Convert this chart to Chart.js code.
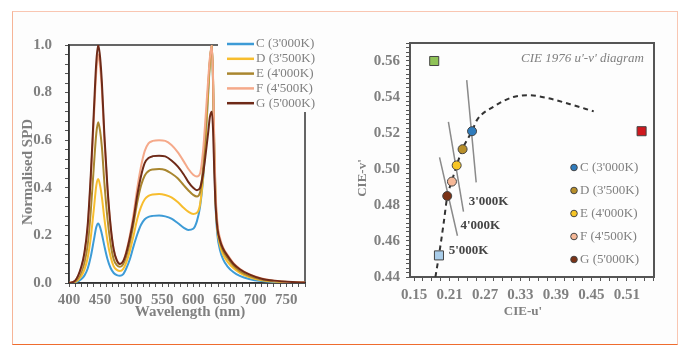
<!DOCTYPE html>
<html>
<head>
<meta charset="utf-8">
<script src="https://cdn.jsdelivr.net/npm/chart.js@4.4.1/dist/chart.umd.min.js"></script>
<style>
  body { margin: 0; background: #fff; }
  .frame {
    position: absolute; left: 12px; top: 11px; width: 666px; height: 334px;
    box-sizing: border-box; background: #fdfdfd;
    border: 1.5px solid #f9c6b2; border-bottom-color: #ef6c2e; border-left-color: #f6b497;
  }
  canvas { position: absolute; top: 0; }
  #spd { left: 0; }
  #cie { left: 350px; }
</style>
</head>
<body>
<div class="frame"></div>
<canvas id="spd" width="350" height="362"></canvas>
<canvas id="cie" width="348" height="362"></canvas>
<script>
// spectra (normalised SPD)
const wavelengths = [400, 410, 420, 425, 430, 435, 440, 444, 447, 450, 453, 457, 462, 467, 472, 477, 482, 487, 492, 498,
  504, 510, 516, 522, 528, 535, 545, 555, 565, 575, 585, 592, 600, 606, 611, 616, 620, 624, 627, 630,
  632, 634, 636, 639, 643, 648, 655, 665, 675, 690, 710, 730, 760, 780];

const spdC = [0, 0.002, 0.017, 0.032, 0.06, 0.11, 0.18, 0.235, 0.25, 0.235, 0.205, 0.155, 0.1, 0.063, 0.042, 0.033, 0.03, 0.036, 0.06, 0.1,
  0.155, 0.205, 0.245, 0.268, 0.278, 0.282, 0.284, 0.28, 0.27, 0.252, 0.232, 0.223, 0.228, 0.26, 0.32, 0.44, 0.6, 0.79, 0.93, 1.0,
  0.83, 0.52, 0.32, 0.2, 0.14, 0.1, 0.07, 0.045, 0.03, 0.017, 0.008, 0.004, 0.001, 0];
const spdD = [0, 0.004, 0.03, 0.057, 0.105, 0.19, 0.31, 0.41, 0.437, 0.41, 0.36, 0.27, 0.175, 0.11, 0.07, 0.055, 0.05, 0.058, 0.085, 0.135,
  0.2, 0.27, 0.32, 0.352, 0.366, 0.372, 0.374, 0.37, 0.36, 0.34, 0.315, 0.3, 0.29, 0.295, 0.33, 0.45, 0.61, 0.8, 0.93, 1.0,
  0.84, 0.54, 0.34, 0.22, 0.16, 0.12, 0.09, 0.062, 0.043, 0.025, 0.012, 0.006, 0.002, 0.001];
const spdE = [0, 0.007, 0.047, 0.088, 0.16, 0.3, 0.49, 0.63, 0.675, 0.64, 0.57, 0.42, 0.27, 0.165, 0.1, 0.075, 0.068, 0.078, 0.11, 0.17,
  0.25, 0.34, 0.41, 0.452, 0.47, 0.477, 0.479, 0.475, 0.46, 0.44, 0.41, 0.39, 0.37, 0.363, 0.38, 0.49, 0.64, 0.82, 0.94, 1.0,
  0.85, 0.56, 0.36, 0.24, 0.175, 0.135, 0.105, 0.072, 0.05, 0.03, 0.015, 0.008, 0.003, 0.001];
const spdF = [0, 0.01, 0.065, 0.125, 0.23, 0.43, 0.69, 0.89, 0.96, 0.91, 0.81, 0.6, 0.39, 0.235, 0.14, 0.095, 0.08, 0.09, 0.13, 0.2,
  0.29, 0.4, 0.49, 0.555, 0.587, 0.597, 0.6, 0.597, 0.58, 0.55, 0.51, 0.48, 0.455, 0.447, 0.46, 0.56, 0.7, 0.85, 0.95, 1.0,
  0.86, 0.58, 0.38, 0.25, 0.19, 0.15, 0.12, 0.083, 0.06, 0.037, 0.019, 0.01, 0.004, 0.002];
const spdG = [0, 0.01, 0.07, 0.13, 0.24, 0.45, 0.72, 0.93, 1.0, 0.95, 0.84, 0.62, 0.4, 0.24, 0.14, 0.095, 0.08, 0.09, 0.125, 0.19,
  0.27, 0.37, 0.45, 0.505, 0.525, 0.533, 0.535, 0.532, 0.515, 0.49, 0.455, 0.425, 0.4, 0.39, 0.4, 0.46, 0.54, 0.63, 0.7, 0.72,
  0.64, 0.46, 0.33, 0.23, 0.18, 0.145, 0.115, 0.08, 0.058, 0.036, 0.018, 0.01, 0.004, 0.002];

const seriesNames = ["C (3'000K)", "D (3'500K)", "E (4'000K)", "F (4'500K)", "G (5'000K)"];
const spdSeries = [spdC, spdD, spdE, spdF, spdG];
const spdColors = ['#3d9bd6', '#f7bd2e', '#a9862f', '#f5a98a', '#6e2a18'];

// CIE 1976 u'-v' panel
const locusU = [0.186, 0.192, 0.2, 0.206, 0.214, 0.222, 0.233, 0.248, 0.256, 0.284, 0.318, 0.343, 0.375, 0.414, 0.454];
const locusV = [0.44, 0.452, 0.47, 0.4845, 0.4935, 0.502, 0.512, 0.521, 0.527, 0.5345, 0.54, 0.541, 0.5395, 0.536, 0.532];

const isoNames = ["3'000K", "4'000K", "5'000K"];
const isoU = [[0.239, 0.255], [0.208, 0.2335], [0.193, 0.2233]];
const isoV = [[0.5494, 0.4926], [0.5262, 0.4763], [0.5065, 0.4629]];
const isoLabelU = [0.276, 0.262, 0.242];
const isoLabelV = [0.482, 0.4685, 0.4547];

const primaryU = [0.184, 0.535, 0.192];
const primaryV = [0.56, 0.521, 0.452];
const primaryColors = ['#8fc257', '#d0181e', '#a9cdea'];

const cctU = [0.248, 0.232, 0.222, 0.214, 0.206];
const cctV = [0.521, 0.511, 0.502, 0.493, 0.485];
const cctColors = ['#2f7cbd', '#b88f2a', '#f6c526', '#f6b897', '#7b3216'];

const BG = '#fdfdfd';
const FONT = 'Liberation Serif';
const GRAY = '#808080';

function makeTicks(start, step, count) {
  const ticks = [];
  for (let i = 0; i <= count; i++) ticks.push({ value: +(start + i * step).toFixed(5) });
  return ticks;
}

function axis({ min, max, start = min, step, count, every, digits, pad, size }) {
  return {
    type: 'linear',
    min,
    max,
    afterBuildTicks: (scale) => { scale.ticks = makeTicks(start, step, count); },
    afterFit: (scale) => {
      if (scale.isHorizontal()) scale.height = size;
      else scale.width = size;
    },
    ticks: {
      autoSkip: false,
      maxRotation: 0,
      padding: pad,
      color: GRAY,
      font: { family: FONT, size: 15, weight: 'bold' },
      callback: (value, index) => (index % every === 0 && index <= count - (count % every) ? value.toFixed(digits) : ''),
    },
    grid: { drawOnChartArea: false, drawTicks: true, tickLength: 4, color: '#555' },
    border: { display: true, color: '#333', width: 1.5 },
  };
}

function text(ctx, str, x, y, font, color, align = 'center', rotate = false) {
  ctx.save();
  ctx.font = font;
  ctx.fillStyle = color;
  ctx.textAlign = align;
  ctx.textBaseline = 'middle';
  ctx.translate(x, y);
  if (rotate) ctx.rotate(-Math.PI / 2);
  ctx.fillText(str, 0, 0);
  ctx.restore();
}

function framePlugin(color, width) {
  return {
    id: 'frame',
    beforeDatasetsDraw: (chart) => {
      const { ctx, chartArea } = chart;
      ctx.save();
      ctx.strokeStyle = color;
      ctx.lineWidth = width;
      ctx.strokeRect(chartArea.left, chartArea.top, chartArea.right - chartArea.left, chartArea.bottom - chartArea.top);
      ctx.restore();
    },
  };
}

const spdOverlay = {
  id: 'spdOverlay',
  afterDraw: (chart) => {
    const { ctx } = chart;
    ctx.save();
    ctx.fillStyle = BG;
    ctx.fillRect(218, 33, 110, 79);
    seriesNames.forEach((name, i) => {
      const y = 44 + i * 14.8;
      ctx.strokeStyle = spdColors[i];
      ctx.lineWidth = 2.5;
      ctx.beginPath();
      ctx.moveTo(227, y);
      ctx.lineTo(254, y);
      ctx.stroke();
      text(ctx, name, 256, y, `13px ${FONT}`, GRAY, 'left');
    });
    ctx.restore();
    text(ctx, 'Wavelength (nm)', 190, 312, `bold 15px ${FONT}`, GRAY);
    text(ctx, 'Normalised SPD', 28, 172, `bold 15px ${FONT}`, GRAY, 'center', true);
  },
};

new Chart(document.getElementById('spd'), {
  type: 'line',
  data: {
    datasets: spdSeries.map((values, i) => ({
      label: seriesNames[i],
      data: wavelengths.map((w, j) => ({ x: w, y: values[j] })),
      borderColor: spdColors[i],
      borderWidth: 2,
      pointRadius: 0,
      cubicInterpolationMode: 'monotone',
      order: spdSeries.length - i,
    })),
  },
  options: {
    responsive: false,
    animation: false,
    layout: { padding: { left: 0, top: 45, right: 45, bottom: 0 } },
    plugins: { legend: { display: false }, tooltip: { enabled: false } },
    scales: {
      x: axis({ min: 400, max: 780, step: 10, count: 38, every: 5, digits: 0, pad: 4, size: 79 }),
      y: axis({ min: 0, max: 1, step: 0.04, count: 25, every: 5, digits: 1, pad: 13, size: 69 }),
    },
  },
  plugins: [framePlugin('#333', 1.5), spdOverlay],
});

const cieOverlay = {
  id: 'cieOverlay',
  afterDraw: (chart) => {
    const { ctx, scales } = chart;
    isoNames.forEach((name, i) => {
      text(ctx, name, scales.x.getPixelForValue(isoLabelU[i]), scales.y.getPixelForValue(isoLabelV[i]),
        `bold 13px ${FONT}`, '#444');
    });
    text(ctx, "CIE 1976 u'-v' diagram", 294, 59, `italic 13px ${FONT}`, GRAY, 'right');
    seriesNames.forEach((name, i) => {
      const y = 167.5 + i * 23;
      ctx.save();
      ctx.fillStyle = cctColors[i];
      ctx.strokeStyle = '#444';
      ctx.lineWidth = 1;
      ctx.beginPath();
      ctx.arc(224, y, 3.3, 0, Math.PI * 2);
      ctx.fill();
      ctx.stroke();
      ctx.restore();
      text(ctx, name, 230, y, `13px ${FONT}`, GRAY, 'left');
    });
    text(ctx, "CIE-u'", 173, 312, `bold 13px ${FONT}`, GRAY);
    text(ctx, "CIE-v'", 13, 178, `bold 13px ${FONT}`, GRAY, 'center', true);
  },
};

const toPoints = (us, vs) => us.map((u, i) => ({ x: u, y: vs[i] }));

new Chart(document.getElementById('cie'), {
  type: 'scatter',
  data: {
    datasets: [
      {
        data: toPoints(cctU, cctV),
        backgroundColor: cctColors,
        borderColor: '#444',
        borderWidth: 1,
        pointRadius: 4.5,
        order: 0,
      },
      {
        data: toPoints(primaryU, primaryV),
        backgroundColor: primaryColors,
        borderColor: '#444',
        borderWidth: 1,
        pointStyle: 'rect',
        pointRadius: 6.4,
        order: 0,
      },
      {
        data: toPoints(locusU, locusV),
        showLine: true,
        borderColor: '#333',
        borderWidth: 2,
        borderDash: [5, 4],
        pointRadius: 0,
        cubicInterpolationMode: 'monotone',
        order: 1,
      },
      ...isoU.map((us, i) => ({
        data: toPoints(us, isoV[i]),
        showLine: true,
        borderColor: '#8a8a8a',
        borderWidth: 1.5,
        pointRadius: 0,
        order: 2,
      })),
    ],
  },
  options: {
    responsive: false,
    animation: false,
    layout: { padding: { left: 0, top: 43, right: 44, bottom: 0 } },
    plugins: { legend: { display: false }, tooltip: { enabled: false } },
    scales: {
      x: axis({ min: 0.143, max: 0.556, start: 0.15, step: 0.015, count: 27, every: 4, digits: 2, pad: 5, size: 85 }),
      y: axis({ min: 0.44, max: 0.57, step: 0.0025, count: 52, every: 8, digits: 2, pad: 6, size: 60 }),
    },
  },
  plugins: [framePlugin('#555', 2), cieOverlay],
});
</script>
</body>
</html>
